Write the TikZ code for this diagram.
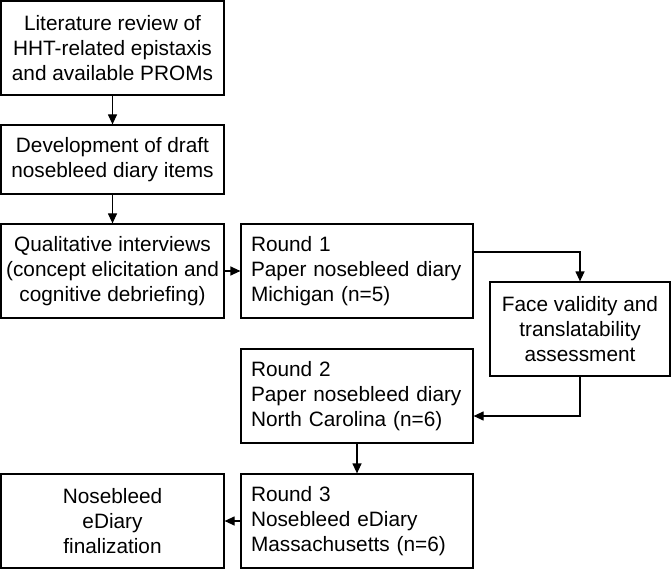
\documentclass[tikz,border=0pt]{standalone}
\usepackage{fontspec}
\setmainfont{Liberation Sans}
\usetikzlibrary{arrows.meta, positioning}

\begin{document}
\begin{tikzpicture}[x=1pt, y=-1pt,
  stepbox/.style={draw, line width=1.2pt, inner ysep=0pt, minimum height=94pt,
    font=\fontsize{20.8}{25}\selectfont},
  midbox/.style={stepbox, inner xsep=0pt, align=center},
  roundbox/.style={stepbox, inner xsep=10pt, text width=212pt, align=left},
  flow/.style={line width=1.2pt, -{Triangle[length=10pt, width=9pt]}}]
  \useasboundingbox (0,0) rectangle (671,569);

  % Preparation
  \node[midbox, minimum width=223pt] (lit) at (112.5, 48) {Literature review of\\HHT-related epistaxis\\and available PROMs};
  \node[midbox, minimum width=223pt, minimum height=69pt] (draft) at (112.5, 159.5) {Development of draft\\nosebleed diary items};
  \node[midbox, minimum width=223pt] (qual) at (112.5, 271) {Qualitative interviews\\(concept elicitation and\\cognitive debriefing)};

  % Rounds
  \node[roundbox] (round1) at (357, 271) {Round 1\\Paper nosebleed diary\\Michigan (n=5)};
  \node[midbox, minimum width=180pt] (face) at (580, 329) {Face validity and\\translatability\\assessment};
  \node[roundbox] (round2) at (357, 396) {Round 2\\Paper nosebleed diary\\North Carolina (n=6)};
  \node[roundbox] (round3) at (357, 521) {Round 3\\Nosebleed eDiary\\Massachusetts (n=6)};
  \node[midbox, minimum width=223pt] (final) at (112.5, 521) {Nosebleed\\eDiary\\finalization};

  % Connectors
  \draw[flow] (lit) -- (draft);
  \draw[flow] (draft) -- (qual);
  \draw[flow] (qual) -- (round1);
  \draw[flow] ([yshift=19pt]round1.east) -| (face.north);
  \draw[flow] (face.south) |- ([yshift=-20pt]round2.east);
  \draw[flow] (round2) -- (round3);
  \draw[flow] (round3) -- (final);
\end{tikzpicture}
\end{document}
